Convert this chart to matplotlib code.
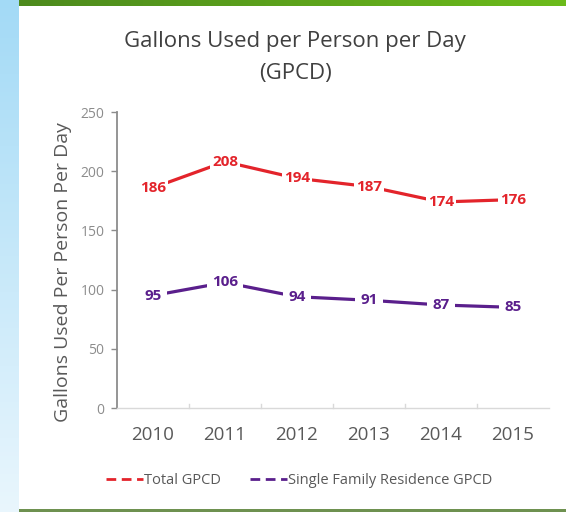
import matplotlib
matplotlib.use("Agg")
import matplotlib.pyplot as plt
import numpy as np
from matplotlib.lines import Line2D
from matplotlib.colors import LinearSegmentedColormap

years = ["2010", "2011", "2012", "2013", "2014", "2015"]
total_gpcd = [186, 208, 194, 187, 174, 176]
sfr_gpcd = [95, 106, 94, 91, 87, 85]
y_ticks = [0, 50, 100, 150, 200, 250]
series_names = ["Total GPCD", "Single Family Residence GPCD"]

RED = "#e3242b"
PURPLE = "#5a1f8c"
FONT = ["Open Sans", "DejaVu Sans"]

W, H = 566, 512
fig = plt.figure(figsize=(W / 100, H / 100), dpi=100)
fig.patch.set_facecolor("white")

# left blue gradient stripe
bg = fig.add_axes([0, 0, 19 / W, 1])
grad = np.linspace(0, 1, 256).reshape(-1, 1)
cm_blue = LinearSegmentedColormap.from_list("b", ["#e9f6fd", "#a3daf6"])
bg.imshow(grad, aspect="auto", cmap=cm_blue, origin="lower", extent=[0, 1, 0, 1])
bg.axis("off")

# top green bar
top = fig.add_axes([19 / W, 1 - 6 / H, 1 - 19 / W, 6 / H])
gx = np.linspace(0, 1, 256).reshape(1, -1)
cm_green = LinearSegmentedColormap.from_list("g", ["#4d8a1e", "#6cbb1a"])
top.imshow(gx, aspect="auto", cmap=cm_green, extent=[0, 1, 0, 1])
top.axis("off")

# bottom line
bot = fig.add_axes([19 / W, 0, 1 - 19 / W, 3 / H])
bot.set_facecolor("#6e9150")
bot.set_xticks([]); bot.set_yticks([])
for s in bot.spines.values():
    s.set_visible(False)

ax = fig.add_axes([117 / W, 1 - 408 / H, (549 - 117) / W, (408 - 112) / H])
x = np.arange(len(years))
ax.plot(x, total_gpcd, color=RED, lw=2.3, zorder=2)
ax.plot(x, sfr_gpcd, color=PURPLE, lw=2.3, zorder=2)

for xi, v in zip(x, total_gpcd):
    ax.text(xi, v, str(v), color=RED, fontsize=11, fontweight="bold", family=FONT,
            ha="center", va="center", zorder=3,
            bbox=dict(boxstyle="square,pad=0.15", fc="white", ec="none"))
for xi, v in zip(x, sfr_gpcd):
    ax.text(xi, v, str(v), color=PURPLE, fontsize=11, fontweight="bold", family=FONT,
            ha="center", va="center", zorder=3,
            bbox=dict(boxstyle="square,pad=0.35", fc="white", ec="none"))

ax.set_xlim(-0.5, len(years) - 0.5)
ax.set_ylim(0, 250)
ax.set_yticks(y_ticks)
ax.set_yticklabels([str(t) for t in y_ticks], family=FONT, fontsize=10, color="#8c8c8c")
ax.set_xticks(x)
ax.set_xticklabels(years, family=FONT, fontsize=13.5, color="#595959")
ax.tick_params(axis="x", length=0, pad=13)
ax.tick_params(axis="y", length=4, width=1, color="#8c8c8c", pad=5)
for s in ["top", "right"]:
    ax.spines[s].set_visible(False)
ax.spines["left"].set_color("#8c8c8c")
ax.spines["left"].set_linewidth(1.3)
ax.spines["bottom"].set_color("#d9d9d9")
ax.spines["bottom"].set_linewidth(1)
for b in np.arange(0.5, len(years) - 0.5, 1.0):
    ax.plot([b, b], [0, 3], color="#d9d9d9", lw=1, clip_on=False, zorder=1)

ax.set_ylabel("Gallons Used Per Person Per Day", family=FONT, fontsize=14,
              color="#595959")
ax.yaxis.set_label_coords(-0.105, 0.46)

fig.text(295 / W, 1 - 41 / H, "Gallons Used per Person per Day", family=FONT,
         fontsize=16, color="#404040", ha="center", va="center")
fig.text(295 / W, 1 - 73 / H, "(GPCD)", family=FONT,
         fontsize=16, color="#404040", ha="center", va="center")

handles = [Line2D([0], [0], color=RED, lw=2, ls=(0, (3.5, 2))),
           Line2D([0], [0], color=PURPLE, lw=2, ls=(0, (3.5, 2)))]
leg = fig.legend(handles, series_names, loc="center left",
                 bbox_to_anchor=(93 / W, 1 - 481 / H), ncol=2, frameon=False,
                 prop={"family": FONT, "size": 10.5}, handlelength=2.5,
                 handletextpad=0.1, columnspacing=2.0)
for t in leg.get_texts():
    t.set_color("#595959")

fig.savefig("out.png", dpi=100)
